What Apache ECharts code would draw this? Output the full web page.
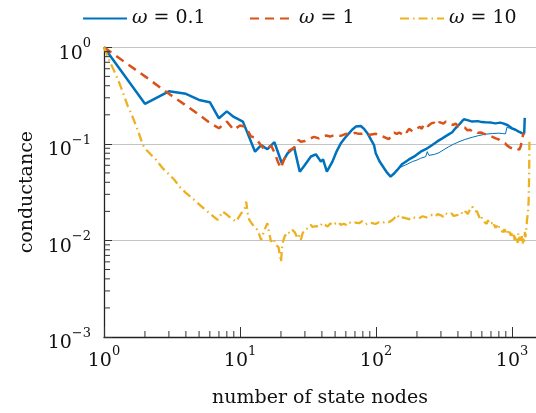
<!DOCTYPE html>
<html>
<head>
<meta charset="utf-8">
<script src="https://cdn.jsdelivr.net/npm/echarts@6/dist/echarts.min.js"></script>
<style>
  html, body { margin: 0; padding: 0; background: #fff; }
  #chart { width: 536px; height: 413px; }
</style>
</head>
<body>
<div id="chart"></div>
<script>
// Conductance vs. number of state nodes, three values of omega (log-log).
const seriesNames = ['ω = 0.1', 'ω = 1', 'ω = 10'];
const seriesColors = ['#0072BD', '#D95319', '#EDB120'];

// omega = 0.1 (main trace)
const omega01 = [
  [1, 1], [2, 0.26], [3, 0.35], [4, 0.33], [5, 0.285], [6, 0.27], [7, 0.184], [8, 0.217],
  [9, 0.19], [10.5, 0.17], [12.9, 0.083], [14.3, 0.097], [15.9, 0.088], [17.9, 0.104],
  [20.3, 0.063], [22.4, 0.08], [25, 0.092], [27.5, 0.0515], [29.6, 0.059], [33.2, 0.074],
  [36.1, 0.078], [39.3, 0.0655], [40.8, 0.069], [43.5, 0.0515], [47.8, 0.0655], [51, 0.082],
  [55, 0.101], [59, 0.115], [63.4, 0.129], [67, 0.141], [71, 0.151], [77.3, 0.153],
  [82, 0.142], [86.4, 0.129], [92, 0.11], [96.7, 0.097], [99.5, 0.08], [106, 0.066],
  [114.6, 0.0559], [121, 0.05], [128, 0.0458], [135, 0.049], [143.3, 0.0537], [156, 0.062],
  [174.7, 0.069], [190, 0.0737], [213, 0.083], [232, 0.088], [259, 0.0975], [282, 0.106],
  [307, 0.114], [335, 0.123], [363, 0.132], [385, 0.146], [406, 0.157], [425, 0.169],
  [442, 0.18], [470, 0.176], [509, 0.17], [560, 0.172], [600, 0.168], [638, 0.167],
  [700, 0.166], [755, 0.163], [820, 0.166], [870, 0.162], [895, 0.161], [930, 0.156],
  [1000, 0.145], [1060, 0.14], [1119, 0.134], [1183, 0.129], [1228, 0.128], [1240, 0.186]
];

// omega = 0.1 (secondary thin trace)
const omega01Thin = [
  [143.3, 0.0537], [150, 0.057], [165, 0.0605], [175, 0.063], [185, 0.0655], [200, 0.068],
  [213, 0.071], [232, 0.0737], [238, 0.083], [245, 0.076], [252, 0.075], [270, 0.078],
  [290, 0.081], [315, 0.087], [343, 0.0935], [370, 0.099], [406, 0.105], [450, 0.111],
  [509, 0.117], [570, 0.122], [638, 0.126], [720, 0.128], [798, 0.129], [850, 0.128],
  [895, 0.127], [905, 0.136], [918, 0.149], [960, 0.145], [1000, 0.142], [1059, 0.139],
  [1120, 0.133], [1183, 0.127], [1230, 0.125]
];

// omega = 1
const omega1 = [
  [1, 1], [2, 0.5], [3, 0.33], [4, 0.25], [5, 0.2], [6, 0.165], [7, 0.145], [8, 0.17],
  [9, 0.14], [10, 0.155], [11, 0.15], [12, 0.12], [13, 0.115], [14, 0.1], [15, 0.088],
  [16, 0.092], [17, 0.095], [18, 0.08], [19, 0.065], [20, 0.056], [21, 0.068], [22, 0.077],
  [23, 0.085], [25, 0.091], [27, 0.11], [28, 0.105], [30, 0.107], [32, 0.112], [35, 0.118],
  [38, 0.114], [40, 0.119], [43, 0.122], [46, 0.119], [50, 0.124], [55, 0.121], [60, 0.127],
  [65, 0.125], [70, 0.13], [75, 0.127], [82, 0.128], [90, 0.124], [100, 0.127], [108, 0.121],
  [116, 0.117], [124, 0.112], [130, 0.122], [136, 0.131], [142, 0.127], [148, 0.131],
  [155, 0.126], [160, 0.136], [168, 0.132], [175, 0.143], [185, 0.135], [195, 0.14],
  [203, 0.146], [210, 0.15], [217, 0.143], [223, 0.157], [232, 0.161], [240, 0.152],
  [248, 0.158], [255, 0.163], [266, 0.166], [275, 0.156], [285, 0.159], [292, 0.168],
  [300, 0.165], [313, 0.162], [325, 0.17], [340, 0.167], [355, 0.16], [370, 0.157],
  [385, 0.162], [400, 0.152], [415, 0.149], [431, 0.145], [450, 0.147], [470, 0.138],
  [490, 0.14], [515, 0.134], [540, 0.135], [560, 0.13], [590, 0.131], [625, 0.127],
  [660, 0.124], [700, 0.12], [730, 0.117], [760, 0.114], [800, 0.111], [830, 0.107],
  [860, 0.103], [890, 0.101], [920, 0.096], [962, 0.092], [990, 0.094], [1020, 0.089],
  [1060, 0.091], [1092, 0.09], [1130, 0.087], [1160, 0.095], [1188, 0.115], [1218, 0.13]
];

// omega = 10
const omega10 = [
  [1, 1], [1.1, 0.72], [1.2, 0.55], [1.3, 0.424], [1.4, 0.32], [1.5, 0.243], [1.6, 0.2],
  [1.77, 0.139], [1.93, 0.0975], [2, 0.09], [2.2, 0.078], [2.42, 0.068], [2.7, 0.056],
  [2.94, 0.0497], [3.3, 0.0423], [3.59, 0.036], [4, 0.031], [4.62, 0.0262], [5.2, 0.0225],
  [5.78, 0.0199], [6.3, 0.018], [6.85, 0.0163], [7.45, 0.0199], [8, 0.0185], [8.59, 0.017],
  [9.35, 0.0157], [10.2, 0.0191], [10.8, 0.021], [11.1, 0.0252], [11.4, 0.019],
  [11.7, 0.0163], [12.2, 0.015], [12.7, 0.0139], [13.5, 0.0128], [14.3, 0.0101],
  [15, 0.0125], [15.9, 0.0151], [16.4, 0.0119], [16.9, 0.0097], [17.5, 0.0105],
  [18.4, 0.009], [19.2, 0.0085], [20, 0.006], [20.5, 0.0093], [21.3, 0.011], [22.4, 0.0123],
  [23.4, 0.0118], [24.3, 0.0128], [25.3, 0.0121], [26.5, 0.0105], [27.2, 0.0112],
  [28, 0.0101], [28.8, 0.0118], [29.6, 0.0128], [31, 0.0132], [32, 0.0126], [33.2, 0.0145],
  [34, 0.0138], [35, 0.0134], [36.5, 0.0141], [38, 0.0137], [40.4, 0.0151], [42, 0.0146],
  [44, 0.0139], [46, 0.015], [48, 0.0143], [50.6, 0.0151], [53, 0.0155], [55, 0.0145],
  [58, 0.0149], [60, 0.0145], [63, 0.0156], [66, 0.015], [70, 0.0153], [75, 0.0151],
  [79, 0.0158], [84, 0.0147], [89, 0.0153], [94, 0.0151], [99, 0.0148], [105, 0.0154],
  [111, 0.0151], [118, 0.0158], [125, 0.0155], [132, 0.0163], [137, 0.0172], [143, 0.0184],
  [150, 0.0168], [157, 0.0173], [165, 0.017], [175, 0.0166], [185, 0.0175], [196, 0.017],
  [207, 0.017], [220, 0.0178], [235, 0.0173], [247, 0.018], [259, 0.0184], [272, 0.0178],
  [285, 0.0187], [300, 0.0182], [312, 0.0176], [324, 0.0191], [340, 0.0185], [350, 0.0193],
  [360, 0.019], [372, 0.0179], [385, 0.0182], [395, 0.0189], [406, 0.0184], [415, 0.0192],
  [425, 0.0195], [435, 0.0185], [445, 0.0188], [455, 0.0199], [465, 0.0196], [473, 0.0188],
  [481, 0.0199], [495, 0.0208], [509, 0.0224], [517, 0.0214], [525, 0.0205], [540, 0.0211],
  [554, 0.0199], [562, 0.0188], [570, 0.0182], [578, 0.0171], [586, 0.0163], [598, 0.0172],
  [610, 0.0165], [625, 0.0155], [640, 0.0158], [652, 0.0149], [665, 0.0162], [678, 0.0148],
  [690, 0.0152], [713, 0.0151], [728, 0.0139], [740, 0.0146], [755, 0.0135], [770, 0.0142],
  [785, 0.0131], [800, 0.0139], [822, 0.0128], [845, 0.0134], [862, 0.0122], [880, 0.0131],
  [900, 0.0119], [920, 0.0126], [940, 0.0114], [960, 0.0123], [980, 0.0112], [1000, 0.0123],
  [1015, 0.0108], [1030, 0.0115], [1045, 0.0101], [1060, 0.0112], [1075, 0.0098],
  [1089, 0.0105], [1100, 0.0094], [1110, 0.0118], [1125, 0.0102], [1140, 0.0109],
  [1150, 0.0096], [1160, 0.0113], [1172, 0.0099], [1183, 0.0114], [1196, 0.0093],
  [1210, 0.0103], [1225, 0.0097], [1240, 0.0125], [1252, 0.0108], [1265, 0.0118],
  [1288, 0.0163], [1310, 0.0195], [1325, 0.0262], [1335, 0.045], [1342, 0.105]
];

// Axis ranges and minor tick positions
const xRange = [1, 1500];
const yRange = [0.001, 1];
const xMinorTicks = [2, 3, 4, 5, 6, 7, 8, 9, 20, 30, 40, 50, 60, 70, 80, 90,
  200, 300, 400, 500, 600, 700, 800, 900];
const yMinorTicks = [0.002, 0.003, 0.004, 0.005, 0.006, 0.007, 0.008, 0.009,
  0.02, 0.03, 0.04, 0.05, 0.06, 0.07, 0.08, 0.09,
  0.2, 0.3, 0.4, 0.5, 0.6, 0.7, 0.8, 0.9];

const FONT = 'DejaVu Serif';
const INK = '#111';

function powerLabel(v) {
  const l = Math.log10(v);
  const e = Math.round(l);
  if (Math.abs(l - e) > 1e-6) return '';
  return '{b|10}{s|' + (e < 0 ? '\u2212' + (-e) : String(e)) + '}';
}
const powerRich = {
  b: { fontFamily: FONT, fontSize: 19, color: INK, lineHeight: 26, verticalAlign: 'bottom' },
  s: { fontFamily: FONT, fontSize: 13, color: INK, lineHeight: 10, verticalAlign: 'top' }
};

function tickSeries(values, axis, len) {
  return {
    type: 'custom',
    silent: true,
    clip: false,
    z: 4,
    data: values.map(v => axis === 'x' ? [v, yRange[0]] : [xRange[0], v]),
    renderItem: (params, api) => {
      const p = api.coord([api.value(0), api.value(1)]);
      const shape = axis === 'x'
        ? { x1: p[0], y1: p[1], x2: p[0], y2: p[1] - len }
        : { x1: p[0], y1: p[1], x2: p[0] + len, y2: p[1] };
      return { type: 'line', shape, style: { stroke: '#333', lineWidth: 1 } };
    }
  };
}

function legendFor(i, left) {
  return {
    data: [seriesNames[i]],
    left, top: 4,
    itemWidth: 44, itemHeight: 14,
    itemStyle: { opacity: 0 },
    formatter: name => '{i|ω}' + name.slice(1),
    textStyle: {
      fontFamily: FONT, fontSize: 19, color: INK,
      rich: { i: { fontFamily: FONT, fontSize: 19, fontStyle: 'italic', color: INK } }
    }
  };
}

const chart = echarts.init(document.getElementById('chart'), null, { renderer: 'canvas' });
chart.setOption({
  backgroundColor: '#fff',
  animation: false,
  color: seriesColors,
  legend: [legendFor(0, 77), legendFor(1, 244), legendFor(2, 394)],
  grid: { left: 104, top: 47.3, width: 433, height: 290, containLabel: false },
  xAxis: {
    type: 'log', logBase: 10, min: xRange[0], max: xRange[1],
    name: 'number of state nodes', nameLocation: 'middle', nameGap: 52,
    nameTextStyle: { fontFamily: FONT, fontSize: 19, color: INK },
    axisLine: { show: true, lineStyle: { color: '#222', width: 1.3 } },
    axisTick: { show: true, inside: true, length: 10, lineStyle: { color: '#333', width: 1 } },
    axisLabel: { formatter: powerLabel, rich: powerRich, margin: 8, showMaxLabel: false },
    splitLine: { show: false },
    minorTick: { show: false }
  },
  yAxis: {
    type: 'log', logBase: 10, min: yRange[0], max: yRange[1],
    name: 'conductance', nameLocation: 'middle', nameGap: 66,
    nameTextStyle: { fontFamily: FONT, fontSize: 19, color: INK },
    axisLine: { show: true, lineStyle: { color: '#222', width: 1.3 } },
    axisTick: { show: true, inside: true, length: 8, lineStyle: { color: '#333', width: 1 } },
    axisLabel: { formatter: powerLabel, rich: powerRich, margin: 13, padding: [6, 0, 0, 0] },
    splitLine: { show: true, lineStyle: { color: '#c4c4c4', width: 1 } },
    minorTick: { show: false }
  },
  series: [
    {
      name: seriesNames[0], type: 'line', data: omega01, symbol: 'none', showSymbol: false,
      lineStyle: { color: seriesColors[0], width: 2.5 }, z: 2
    },
    {
      name: 'ω = 0.1 (thin)', type: 'line', data: omega01Thin, symbol: 'none', showSymbol: false,
      lineStyle: { color: seriesColors[0], width: 1 }, z: 2
    },
    {
      name: seriesNames[1], type: 'line', data: omega1, symbol: 'none', showSymbol: false,
      lineStyle: { color: seriesColors[1], width: 2.5, type: [9, 6] }, z: 2
    },
    {
      name: seriesNames[2], type: 'line', data: omega10, symbol: 'none', showSymbol: false,
      lineStyle: { color: seriesColors[2], width: 2.3, type: [9, 4, 1.5, 4] }, z: 2
    },
    tickSeries(xMinorTicks, 'x', 6),
    tickSeries(yMinorTicks, 'y', 6)
  ]
});
</script>
</body>
</html>
